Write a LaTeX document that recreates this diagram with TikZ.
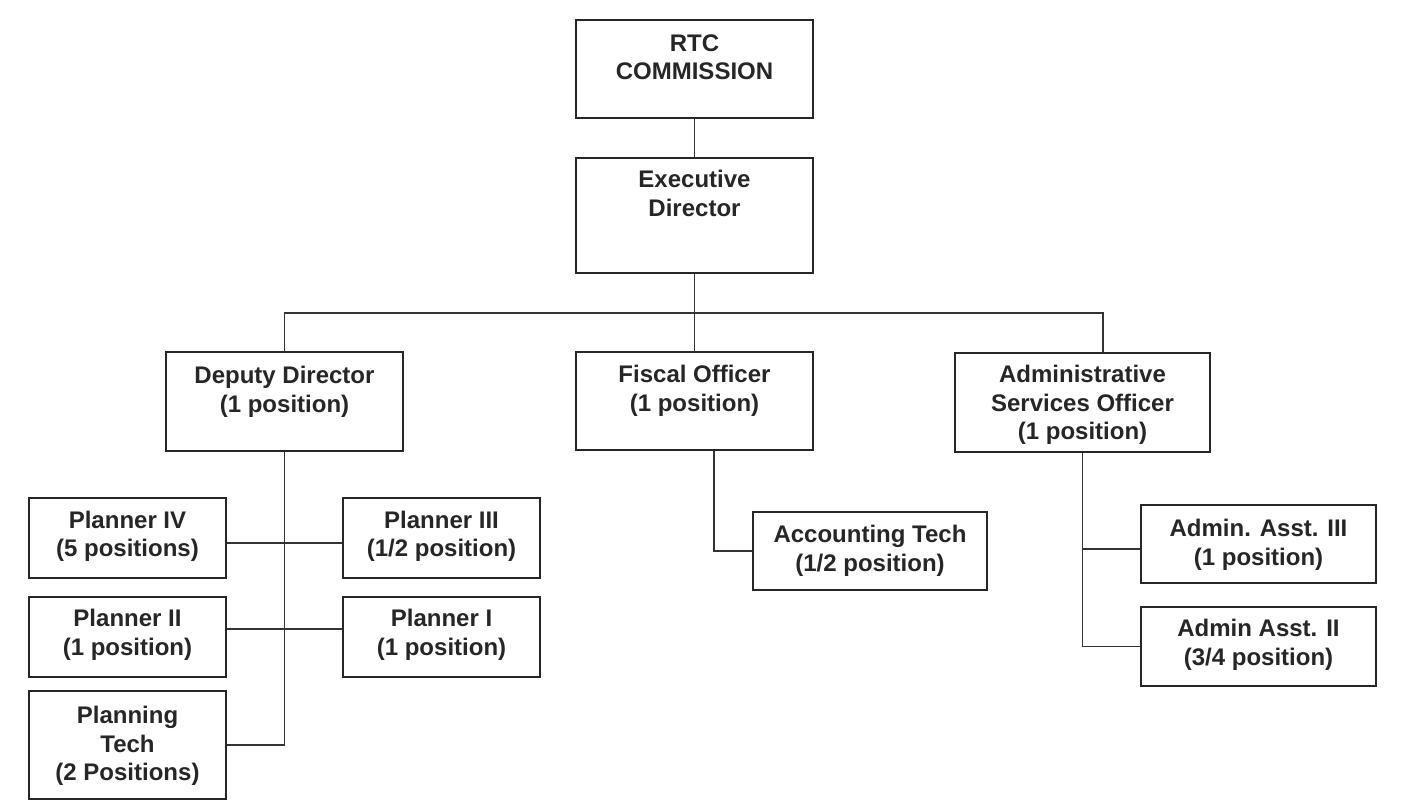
\documentclass[tikz,border=0pt]{standalone}
\usepackage{fontspec}
\setmainfont{Liberation Sans}
\begin{document}
\begin{tikzpicture}[x=1pt,y=-1pt,
  box/.style={draw=black!85, line width=1.5pt, inner sep=0pt, fill=white},
  lbl/.style={anchor=north, inner sep=0pt, align=center, text=black!85,
    font=\fontsize{24pt}{28.5pt}\selectfont\bfseries},
  wire/.style={draw=black!80, line width=1.8pt}]
\useasboundingbox[fill=white] (0,0) rectangle (1405,804);
% boxes
\node[box, minimum width=237pt, minimum height=98pt]  (rtc) at (694.5,69) {};
\node[box, minimum width=237pt, minimum height=115pt] (exe) at (694.5,215.5) {};
\node[box, minimum width=237pt, minimum height=99pt]  (dep) at (284.5,401.5) {};
\node[box, minimum width=237pt, minimum height=98pt]  (fis) at (694.5,401) {};
\node[box, minimum width=255pt, minimum height=99pt]  (aso) at (1082.5,402.5) {};
\node[box, minimum width=197pt, minimum height=80pt]  (p4) at (127.5,538) {};
\node[box, minimum width=197pt, minimum height=80pt]  (p3) at (441.5,538) {};
\node[box, minimum width=197pt, minimum height=80pt]  (p2) at (127.5,637) {};
\node[box, minimum width=197pt, minimum height=80pt]  (p1) at (441.5,637) {};
\node[box, minimum width=197pt, minimum height=108pt] (pt) at (127.5,745) {};
\node[box, minimum width=234pt, minimum height=78pt]  (acc) at (870,551) {};
\node[box, minimum width=235pt, minimum height=78pt]  (a3) at (1258.5,544) {};
\node[box, minimum width=235pt, minimum height=79pt]  (a2) at (1258.5,646.5) {};
% labels
\node[lbl] (trtc) at ([yshift=-15pt]rtc.north) {RTC\\COMMISSION};
\node[lbl] (texe) at ([yshift=-13pt]exe.north) {Executive\\Director};
\node[lbl] (tdep) at ([yshift=-15pt]dep.north) {Deputy Director\\(1 position)};
\node[lbl] (tfis) at ([yshift=-14pt]fis.north) {Fiscal Officer\\(1 position)};
\node[lbl] (taso) at ([yshift=-13pt]aso.north) {Administrative\\Services Officer\\(1 position)};
\node[lbl] (tp4) at ([yshift=-13.5pt]p4.north) {Planner IV\\(5 positions)};
\node[lbl] (tp3) at ([yshift=-13.5pt]p3.north) {Planner III\\(1/2 position)};
\node[lbl] (tp2) at ([yshift=-13pt]p2.north) {Planner II\\(1 position)};
\node[lbl] (tp1) at ([yshift=-13pt]p1.north) {Planner I\\(1 position)};
\node[lbl] (tpt) at ([yshift=-16pt]pt.north) {Planning\\Tech\\(2 Positions)};
\node[lbl] (tacc) at ([yshift=-14pt]acc.north) {Accounting Tech\\(1/2 position)};
\node[lbl] (ta3) at ([yshift=-15pt]a3.north) {Admin. Asst. III\\(1 position)};
\node[lbl] (ta2) at ([yshift=-13pt]a2.north) {Admin Asst. II\\(3/4 position)};
% connectors
\coordinate (bus) at (694.5,313);
\coordinate (asotop) at ([xshift=20.5pt]aso.north);
\coordinate (fisbot) at ([xshift=19.5pt]fis.south);
\coordinate (a3in) at ([yshift=-5pt]a3.west);
\path[wire] (rtc.south) -- (exe.north);
\path[wire] (exe.south) -- (fis.north);
\path[wire] (dep.north) |- (bus) -| (asotop);
\path[wire] (dep.south) |- (pt.east);
\path[wire] ([yshift=-5pt]p4.east) -- ([yshift=-5pt]p3.west);
\path[wire] ([yshift=8pt]p2.east) -- ([yshift=8pt]p1.west);
\path[wire] (fisbot) |- (acc.west);
\path[wire] (aso.south) |- (a2.west);
\path[wire] (aso.south |- a3in) -- (a3in);
\end{tikzpicture}
\end{document}
